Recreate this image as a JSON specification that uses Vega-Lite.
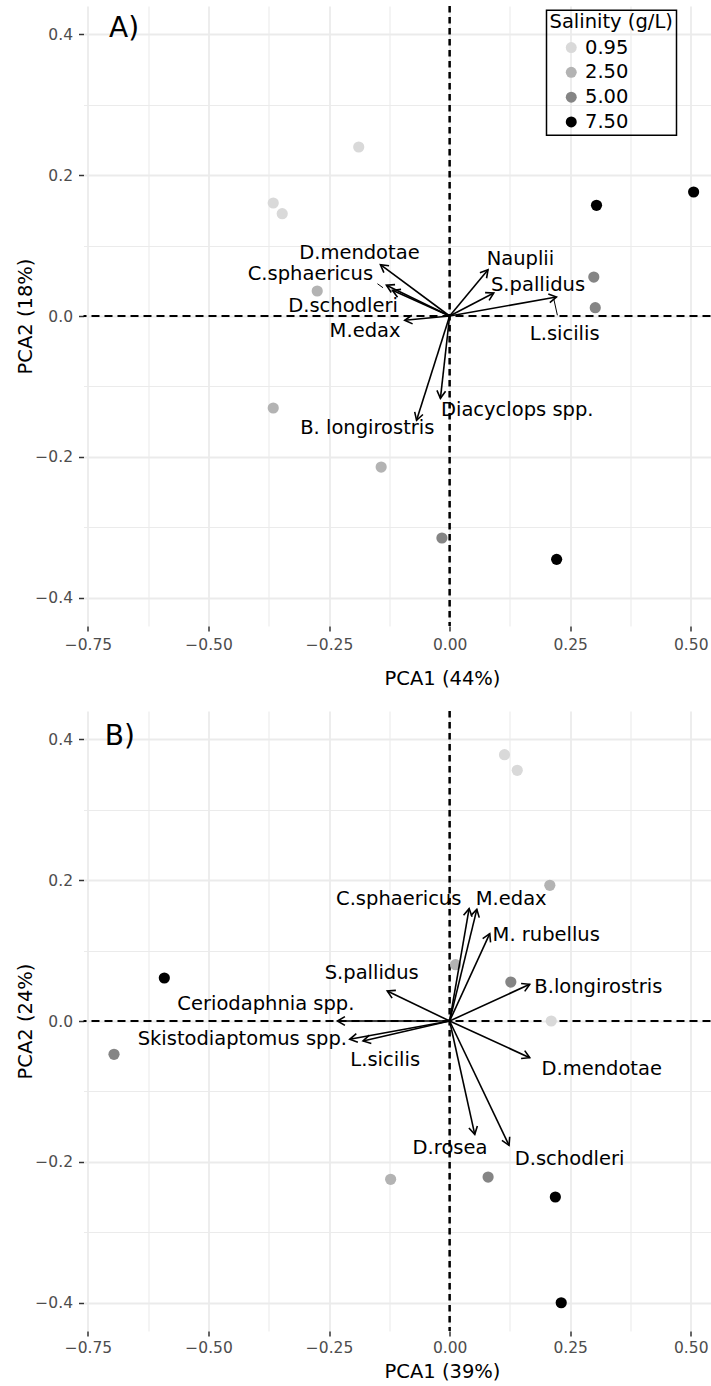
{
  "$schema": "https://vega.github.io/schema/vega-lite/v6.json",
  "padding": {"left": 15.5, "top": 4, "right": 0, "bottom": 2},
  "bounds": "flush",
  "spacing": 85,
  "datasets": {
    "pointsA": [
      {"x": -0.1885, "y": 0.2399, "sal": "0.95"},
      {"x": -0.3658, "y": 0.1604, "sal": "0.95"},
      {"x": -0.3472, "y": 0.1452, "sal": "0.95"},
      {"x": -0.2746, "y": 0.0355, "sal": "2.50"},
      {"x": -0.3658, "y": -0.1306, "sal": "2.50"},
      {"x": -0.142, "y": -0.2144, "sal": "2.50"},
      {"x": 0.299, "y": 0.0553, "sal": "5.00"},
      {"x": 0.302, "y": 0.0118, "sal": "5.00"},
      {"x": -0.016, "y": -0.3151, "sal": "5.00"},
      {"x": 0.3046, "y": 0.1571, "sal": "7.50"},
      {"x": 0.506, "y": 0.176, "sal": "7.50"},
      {"x": 0.2219, "y": -0.3454, "sal": "7.50"}
    ],
    "arrowsA": [
      {"name": "D.mendotae", "x": -0.1435, "y": 0.0728, "lx": -0.1871, "ly": 0.0894},
      {"name": "C.sphaericus", "x": -0.1311, "y": 0.0436, "lx": -0.2887, "ly": 0.0592},
      {"name": "D.schodleri", "x": -0.1186, "y": 0.0365, "lx": -0.2211, "ly": 0.0142},
      {"name": "M.edax", "x": -0.0931, "y": -0.0061, "lx": -0.1754, "ly": -0.0213},
      {"name": "B. longirostris", "x": -0.0686, "y": -0.1481, "lx": -0.1707, "ly": -0.159},
      {"name": "Diacyclops spp.", "x": -0.0191, "y": -0.1168, "lx": 0.1402, "ly": -0.133},
      {"name": "Nauplii", "x": 0.0796, "y": 0.0657, "lx": 0.1468, "ly": 0.0805},
      {"name": "S.pallidus", "x": 0.0915, "y": 0.0326, "lx": 0.1833, "ly": 0.0436},
      {"name": "L.sicilis", "x": 0.2215, "y": 0.0269, "lx": 0.2387, "ly": -0.026}
    ],
    "segsA": [
      {"x": 0.2159, "y": 0.0245, "x2": 0.2235, "y2": 0.001},
      {"x": -0.1497, "y": 0.0458, "x2": -0.1381, "y2": 0.0401}
    ],
    "pointsB": [
      {"x": 0.1138, "y": 0.378, "sal": "0.95"},
      {"x": 0.1402, "y": 0.3558, "sal": "0.95"},
      {"x": 0.2107, "y": 0.0, "sal": "0.95"},
      {"x": 0.2078, "y": 0.1926, "sal": "2.50"},
      {"x": 0.0122, "y": 0.0799, "sal": "2.50"},
      {"x": -0.1224, "y": -0.2247, "sal": "2.50"},
      {"x": 0.1269, "y": 0.0553, "sal": "5.00"},
      {"x": -0.696, "y": -0.0473, "sal": "5.00"},
      {"x": 0.0798, "y": -0.2215, "sal": "5.00"},
      {"x": -0.5917, "y": 0.061, "sal": "7.50"},
      {"x": 0.2192, "y": -0.2498, "sal": "7.50"},
      {"x": 0.2314, "y": -0.3999, "sal": "7.50"}
    ],
    "arrowsB": [
      {"name": "C.sphaericus", "x": 0.0404, "y": 0.1594, "lx": -0.1056, "ly": 0.1736},
      {"name": "M.edax", "x": 0.0564, "y": 0.1585, "lx": 0.1277, "ly": 0.1736},
      {"name": "M. rubellus", "x": 0.0832, "y": 0.1239, "lx": 0.2003, "ly": 0.1216},
      {"name": "B.longirostris", "x": 0.1661, "y": 0.0521, "lx": 0.3084, "ly": 0.0482},
      {"name": "S.pallidus", "x": -0.1294, "y": 0.0426, "lx": -0.1616, "ly": 0.0685},
      {"name": "Ceriodaphnia spp.", "x": -0.2327, "y": 0.0, "lx": -0.381, "ly": 0.0245},
      {"name": "Skistodiaptomus spp.", "x": -0.2072, "y": -0.026, "lx": -0.4299, "ly": -0.026},
      {"name": "L.sicilis", "x": -0.1796, "y": -0.0284, "lx": -0.1336, "ly": -0.055},
      {"name": "D.mendotae", "x": 0.1661, "y": -0.0521, "lx": 0.3154, "ly": -0.0677},
      {"name": "D.rosea", "x": 0.0521, "y": -0.1609, "lx": 0.0008, "ly": -0.1803},
      {"name": "D.schodleri", "x": 0.1232, "y": -0.1765, "lx": 0.2487, "ly": -0.1955}
    ]
  },
  "resolve": {"scale": {"color": "independent"}},
  "vconcat": [
    {
      "width": 627,
      "height": 620,
      "layer": [
        {
          "data": {"values": [{"v": 0}]},
          "mark": {"type": "rule", "color": "black", "strokeWidth": 2.5, "strokeDash": [6.5, 4.5]},
          "encoding": {
            "x": {"field": "v", "type": "quantitative",
              "scale": {"domain": [-0.7593, 0.541], "nice": false, "zero": false},
              "axis": {
                "title": "PCA1 (44%)",
                "values": [-0.75, -0.625, -0.5, -0.375, -0.25, -0.125, 0, 0.125, 0.25, 0.375, 0.5],
                "labelExpr": "abs(datum.value*4 - round(datum.value*4)) < 0.001 ? format(datum.value, '.2f') : ''",
                "tickOpacity": {"condition": {"test": "abs(datum.value*4 - round(datum.value*4)) < 0.001", "value": 1}, "value": 0},
                "gridWidth": {"condition": {"test": "abs(datum.value*4 - round(datum.value*4)) < 0.001", "value": 1.8}, "value": 1.1},
                "labelPadding": 6.3,
                "titleX": 358.5,
                "titleY": 43,
                "labelFlush": false,
                "labelOverlap": false
              }
            }
          }
        },
        {
          "data": {"values": [{"v": 0}]},
          "mark": {"type": "rule", "color": "black", "strokeWidth": 2, "strokeDash": [8, 5]},
          "encoding": {
            "y": {"field": "v", "type": "quantitative",
              "scale": {"domain": [-0.44, 0.44], "nice": false, "zero": false},
              "axis": {
                "title": "PCA2 (18%)",
                "values": [-0.4, -0.3, -0.2, -0.1, 0, 0.1, 0.2, 0.3, 0.4],
                "labelExpr": "abs(datum.value*5 - round(datum.value*5)) < 0.001 ? format(datum.value, '.1f') : ''",
                "tickOpacity": {"condition": {"test": "abs(datum.value*5 - round(datum.value*5)) < 0.001", "value": 1}, "value": 0},
                "gridWidth": {"condition": {"test": "abs(datum.value*5 - round(datum.value*5)) < 0.001", "value": 1.8}, "value": 1.1},
                "labelPadding": 6,
                "titleX": -48,
                "labelFlush": false,
                "labelOverlap": false
              }
            }
          }
        },
        {
          "data": {"name": "pointsA"},
          "mark": {"type": "point", "filled": true, "size": 125, "opacity": 1},
          "encoding": {
            "x": {"field": "x", "type": "quantitative", "scale": {"domain": [-0.7593, 0.541], "nice": false, "zero": false}},
            "y": {"field": "y", "type": "quantitative", "scale": {"domain": [-0.44, 0.44], "nice": false, "zero": false}},
            "color": {"field": "sal", "type": "nominal",
              "scale": {"domain": ["0.95", "2.50", "5.00", "7.50"], "range": ["#D9D9D9", "#B3B3B3", "#858585", "#000000"]},
              "legend": {
                "orient": "none", "legendX": 463, "legendY": 4.3,
                "title": "Salinity (g/L)",
                "titleFont": "DejaVu Sans", "titleFontSize": 19.5, "titleFontWeight": "normal", "titleColor": "black",
                "labelFont": "DejaVu Sans", "labelFontSize": 19.5, "labelColor": "black",
                "strokeColor": "black", "padding": 3,
                "symbolType": "circle", "symbolSize": 120, "symbolOffset": 12, "symbolStrokeWidth": 0,
                "labelOffset": 4, "rowPadding": 3.8, "titlePadding": 5
              }
            }
          }
        },
        {
          "data": {"name": "arrowsA"},
          "mark": {"type": "rule", "color": "black", "strokeWidth": 1.6},
          "encoding": {
            "x": {"field": "x", "type": "quantitative", "scale": {"domain": [-0.7593, 0.541], "nice": false, "zero": false}},
            "y": {"field": "y", "type": "quantitative", "scale": {"domain": [-0.44, 0.44], "nice": false, "zero": false}},
            "x2": {"datum": 0},
            "y2": {"datum": 0}
          }
        },
        {
          "data": {"name": "arrowsA"},
          "mark": {"type": "point", "filled": false, "color": "black", "strokeWidth": 1.6, "opacity": 1, "size": 300,
            "shape": "M -0.866 -0.5 L 0 0 L -0.866 0.5",
            "angle": {"expr": "atan2(-datum.y*704.5, datum.x*482.2)*180/PI"}},
          "encoding": {
            "x": {"field": "x", "type": "quantitative", "scale": {"domain": [-0.7593, 0.541], "nice": false, "zero": false}},
            "y": {"field": "y", "type": "quantitative", "scale": {"domain": [-0.44, 0.44], "nice": false, "zero": false}}
          }
        },
        {
          "data": {"name": "segsA"},
          "mark": {"type": "rule", "color": "black", "strokeWidth": 1},
          "encoding": {
            "x": {"field": "x", "type": "quantitative", "scale": {"domain": [-0.7593, 0.541], "nice": false, "zero": false}},
            "y": {"field": "y", "type": "quantitative", "scale": {"domain": [-0.44, 0.44], "nice": false, "zero": false}},
            "x2": {"field": "x2"},
            "y2": {"field": "y2"}
          }
        },
        {
          "data": {"name": "arrowsA"},
          "mark": {"type": "text", "font": "DejaVu Sans", "fontSize": 19.5, "color": "black", "align": "center", "baseline": "middle"},
          "encoding": {
            "x": {"field": "lx", "type": "quantitative", "scale": {"domain": [-0.7593, 0.541], "nice": false, "zero": false}},
            "y": {"field": "ly", "type": "quantitative", "scale": {"domain": [-0.44, 0.44], "nice": false, "zero": false}},
            "text": {"field": "name"}
          }
        },
        {
          "data": {"values": [{"t": "A)"}]},
          "mark": {"type": "text", "font": "DejaVu Sans", "fontSize": 28, "color": "black", "align": "center", "baseline": "middle"},
          "encoding": {
            "x": {"datum": -0.675, "type": "quantitative"},
            "y": {"datum": 0.408, "type": "quantitative"},
            "text": {"field": "t"}
          }
        }
      ]
    },
    {
      "width": 627,
      "height": 620,
      "layer": [
        {
          "data": {"values": [{"v": 0}]},
          "mark": {"type": "rule", "color": "black", "strokeWidth": 2.5, "strokeDash": [6.5, 4.5]},
          "encoding": {
            "x": {"field": "v", "type": "quantitative",
              "scale": {"domain": [-0.7593, 0.541], "nice": false, "zero": false},
              "axis": {
                "title": "PCA1 (39%)",
                "values": [-0.75, -0.625, -0.5, -0.375, -0.25, -0.125, 0, 0.125, 0.25, 0.375, 0.5],
                "labelExpr": "abs(datum.value*4 - round(datum.value*4)) < 0.001 ? format(datum.value, '.2f') : ''",
                "tickOpacity": {"condition": {"test": "abs(datum.value*4 - round(datum.value*4)) < 0.001", "value": 1}, "value": 0},
                "gridWidth": {"condition": {"test": "abs(datum.value*4 - round(datum.value*4)) < 0.001", "value": 1.8}, "value": 1.1},
                "labelPadding": 4.8,
                "titleX": 358.5,
                "titleY": 31.5,
                "labelFlush": false,
                "labelOverlap": false
              }
            }
          }
        },
        {
          "data": {"values": [{"v": 0}]},
          "mark": {"type": "rule", "color": "black", "strokeWidth": 2, "strokeDash": [8, 5]},
          "encoding": {
            "y": {"field": "v", "type": "quantitative",
              "scale": {"domain": [-0.44, 0.44], "nice": false, "zero": false},
              "axis": {
                "title": "PCA2 (24%)",
                "values": [-0.4, -0.3, -0.2, -0.1, 0, 0.1, 0.2, 0.3, 0.4],
                "labelExpr": "abs(datum.value*5 - round(datum.value*5)) < 0.001 ? format(datum.value, '.1f') : ''",
                "tickOpacity": {"condition": {"test": "abs(datum.value*5 - round(datum.value*5)) < 0.001", "value": 1}, "value": 0},
                "gridWidth": {"condition": {"test": "abs(datum.value*5 - round(datum.value*5)) < 0.001", "value": 1.8}, "value": 1.1},
                "labelPadding": 6,
                "titleX": -48,
                "labelFlush": false,
                "labelOverlap": false
              }
            }
          }
        },
        {
          "data": {"name": "pointsB"},
          "mark": {"type": "point", "filled": true, "size": 125, "opacity": 1},
          "encoding": {
            "x": {"field": "x", "type": "quantitative", "scale": {"domain": [-0.7593, 0.541], "nice": false, "zero": false}},
            "y": {"field": "y", "type": "quantitative", "scale": {"domain": [-0.44, 0.44], "nice": false, "zero": false}},
            "color": {"field": "sal", "type": "nominal",
              "scale": {"domain": ["0.95", "2.50", "5.00", "7.50"], "range": ["#D9D9D9", "#B3B3B3", "#858585", "#000000"]},
              "legend": null
            }
          }
        },
        {
          "data": {"name": "arrowsB"},
          "mark": {"type": "rule", "color": "black", "strokeWidth": 1.6},
          "encoding": {
            "x": {"field": "x", "type": "quantitative", "scale": {"domain": [-0.7593, 0.541], "nice": false, "zero": false}},
            "y": {"field": "y", "type": "quantitative", "scale": {"domain": [-0.44, 0.44], "nice": false, "zero": false}},
            "x2": {"datum": 0},
            "y2": {"datum": 0}
          }
        },
        {
          "data": {"name": "arrowsB"},
          "mark": {"type": "point", "filled": false, "color": "black", "strokeWidth": 1.6, "opacity": 1, "size": 300,
            "shape": "M -0.866 -0.5 L 0 0 L -0.866 0.5",
            "angle": {"expr": "atan2(-datum.y*704.5, datum.x*482.2)*180/PI"}},
          "encoding": {
            "x": {"field": "x", "type": "quantitative", "scale": {"domain": [-0.7593, 0.541], "nice": false, "zero": false}},
            "y": {"field": "y", "type": "quantitative", "scale": {"domain": [-0.44, 0.44], "nice": false, "zero": false}}
          }
        },
        {
          "data": {"name": "arrowsB"},
          "mark": {"type": "text", "font": "DejaVu Sans", "fontSize": 19.5, "color": "black", "align": "center", "baseline": "middle"},
          "encoding": {
            "x": {"field": "lx", "type": "quantitative", "scale": {"domain": [-0.7593, 0.541], "nice": false, "zero": false}},
            "y": {"field": "ly", "type": "quantitative", "scale": {"domain": [-0.44, 0.44], "nice": false, "zero": false}},
            "text": {"field": "name"}
          }
        },
        {
          "data": {"values": [{"t": "B)"}]},
          "mark": {"type": "text", "font": "DejaVu Sans", "fontSize": 28, "color": "black", "align": "center", "baseline": "middle"},
          "encoding": {
            "x": {"datum": -0.684, "type": "quantitative"},
            "y": {"datum": 0.4035, "type": "quantitative"},
            "text": {"field": "t"}
          }
        }
      ]
    }
  ],
  "config": {
    "view": {"stroke": null},
    "font": "DejaVu Sans",
    "axis": {
      "domain": false,
      "labelFont": "DejaVu Sans",
      "labelFontSize": 15.5,
      "labelColor": "#4D4D4D",
      "tickColor": "#333333",
      "tickWidth": 1.5,
      "tickSize": 5,
      "gridColor": "#EBEBEB",
      "titleFont": "DejaVu Sans",
      "titleFontSize": 19.5,
      "titleFontWeight": "normal",
      "titleColor": "#000000"
    },
    "legend": {"strokeWidth": 1.5}
  }
}
